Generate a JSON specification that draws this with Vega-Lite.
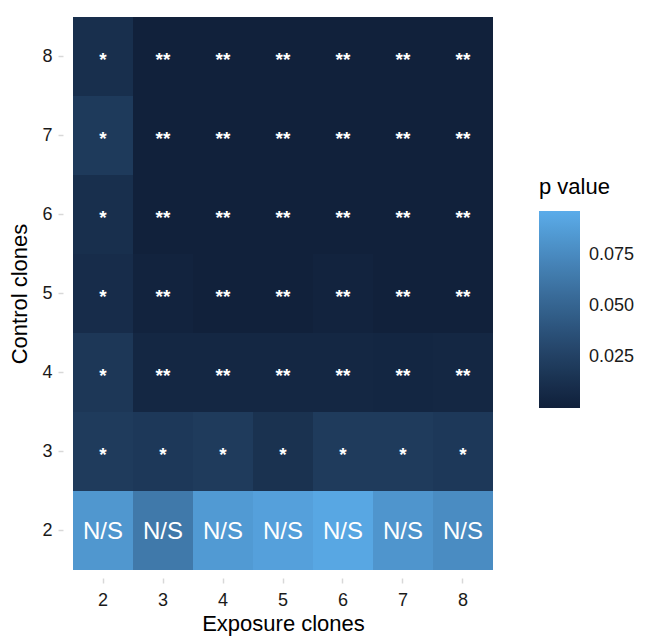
{
  "$schema": "https://vega.github.io/schema/vega-lite/v6.json",
  "autosize": {"type": "none"},
  "padding": {"left": 63, "top": 9, "right": 143, "bottom": 58},
  "width": 440,
  "height": 569,
  "background": "white",
  "config": {
    "view": {"stroke": null},
    "font": "Liberation Sans",
    "axis": {"domain": false, "gridColor": "#EBEBEB", "gridWidth": 1.5, "tickColor": "#D8D8D8", "tickSize": 5, "tickWidth": 1.5, "labelColor": "#1A1A1A", "labelFontSize": 18, "titleColor": "#000000", "titleFontSize": 22, "titleFontWeight": "normal"}
  },
  "data": {
    "values": [
      {"exposure": 2, "control": 8, "p": 0.012, "label": "*"},
      {"exposure": 3, "control": 8, "p": 0.001, "label": "**"},
      {"exposure": 4, "control": 8, "p": 0.001, "label": "**"},
      {"exposure": 5, "control": 8, "p": 0.001, "label": "**"},
      {"exposure": 6, "control": 8, "p": 0.001, "label": "**"},
      {"exposure": 7, "control": 8, "p": 0.001, "label": "**"},
      {"exposure": 8, "control": 8, "p": 0.001, "label": "**"},
      {"exposure": 2, "control": 7, "p": 0.020, "label": "*"},
      {"exposure": 3, "control": 7, "p": 0.001, "label": "**"},
      {"exposure": 4, "control": 7, "p": 0.001, "label": "**"},
      {"exposure": 5, "control": 7, "p": 0.001, "label": "**"},
      {"exposure": 6, "control": 7, "p": 0.001, "label": "**"},
      {"exposure": 7, "control": 7, "p": 0.001, "label": "**"},
      {"exposure": 8, "control": 7, "p": 0.001, "label": "**"},
      {"exposure": 2, "control": 6, "p": 0.012, "label": "*"},
      {"exposure": 3, "control": 6, "p": 0.001, "label": "**"},
      {"exposure": 4, "control": 6, "p": 0.001, "label": "**"},
      {"exposure": 5, "control": 6, "p": 0.001, "label": "**"},
      {"exposure": 6, "control": 6, "p": 0.001, "label": "**"},
      {"exposure": 7, "control": 6, "p": 0.001, "label": "**"},
      {"exposure": 8, "control": 6, "p": 0.001, "label": "**"},
      {"exposure": 2, "control": 5, "p": 0.010, "label": "*"},
      {"exposure": 3, "control": 5, "p": 0.003, "label": "**"},
      {"exposure": 4, "control": 5, "p": 0.001, "label": "**"},
      {"exposure": 5, "control": 5, "p": 0.001, "label": "**"},
      {"exposure": 6, "control": 5, "p": 0.003, "label": "**"},
      {"exposure": 7, "control": 5, "p": 0.001, "label": "**"},
      {"exposure": 8, "control": 5, "p": 0.001, "label": "**"},
      {"exposure": 2, "control": 4, "p": 0.018, "label": "*"},
      {"exposure": 3, "control": 4, "p": 0.006, "label": "**"},
      {"exposure": 4, "control": 4, "p": 0.006, "label": "**"},
      {"exposure": 5, "control": 4, "p": 0.006, "label": "**"},
      {"exposure": 6, "control": 4, "p": 0.006, "label": "**"},
      {"exposure": 7, "control": 4, "p": 0.005, "label": "**"},
      {"exposure": 8, "control": 4, "p": 0.006, "label": "**"},
      {"exposure": 2, "control": 3, "p": 0.021, "label": "*"},
      {"exposure": 3, "control": 3, "p": 0.019, "label": "*"},
      {"exposure": 4, "control": 3, "p": 0.021, "label": "*"},
      {"exposure": 5, "control": 3, "p": 0.014, "label": "*"},
      {"exposure": 6, "control": 3, "p": 0.021, "label": "*"},
      {"exposure": 7, "control": 3, "p": 0.021, "label": "*"},
      {"exposure": 8, "control": 3, "p": 0.019, "label": "*"},
      {"exposure": 2, "control": 2, "p": 0.083, "label": "N/S"},
      {"exposure": 3, "control": 2, "p": 0.064, "label": "N/S"},
      {"exposure": 4, "control": 2, "p": 0.085, "label": "N/S"},
      {"exposure": 5, "control": 2, "p": 0.089, "label": "N/S"},
      {"exposure": 6, "control": 2, "p": 0.093, "label": "N/S"},
      {"exposure": 7, "control": 2, "p": 0.082, "label": "N/S"},
      {"exposure": 8, "control": 2, "p": 0.076, "label": "N/S"}
    ]
  },
  "encoding": {
    "x": {"field": "exposure", "type": "ordinal", "title": "Exposure clones",
          "scale": {"paddingInner": 0, "paddingOuter": 0.1666667},
          "axis": {"labelAngle": 0, "labelPadding": 8, "titlePadding": 4}},
    "y": {"field": "control", "type": "ordinal", "title": "Control clones", "sort": "descending",
          "scale": {"paddingInner": 0, "paddingOuter": 0.1012658},
          "axis": {"labelPadding": 6, "titlePadding": 10}}
  },
  "layer": [
    {
      "mark": {"type": "rect"},
      "encoding": {
        "color": {"field": "p", "type": "quantitative", "title": "p value",
          "scale": {"domain": [0.0002, 0.0963], "range": ["#10203A", "#5BACEA"], "interpolate": "lab"},
          "legend": {"orient": "none", "legendX": 476, "legendY": 168, "values": [0.025, 0.05, 0.075], "format": ".3f",
            "gradientLength": 197, "gradientThickness": 41, "titleFontSize": 22, "titleFontWeight": "normal", "titleColor": "#000000", "titlePadding": 12,
            "labelFontSize": 18, "labelColor": "#1A1A1A", "labelOffset": 9, "gradientStrokeWidth": 0}}
      }
    },
    {
      "transform": [{"filter": "datum.label != 'N/S'"}],
      "mark": {"type": "text", "color": "white", "fontSize": 19, "fontWeight": "bold", "baseline": "middle", "dy": 3},
      "encoding": {"text": {"field": "label"}}
    },
    {
      "transform": [{"filter": "datum.label == 'N/S'"}],
      "mark": {"type": "text", "color": "white", "fontSize": 24, "baseline": "middle", "dy": 1},
      "encoding": {"text": {"field": "label"}}
    }
  ]
}
